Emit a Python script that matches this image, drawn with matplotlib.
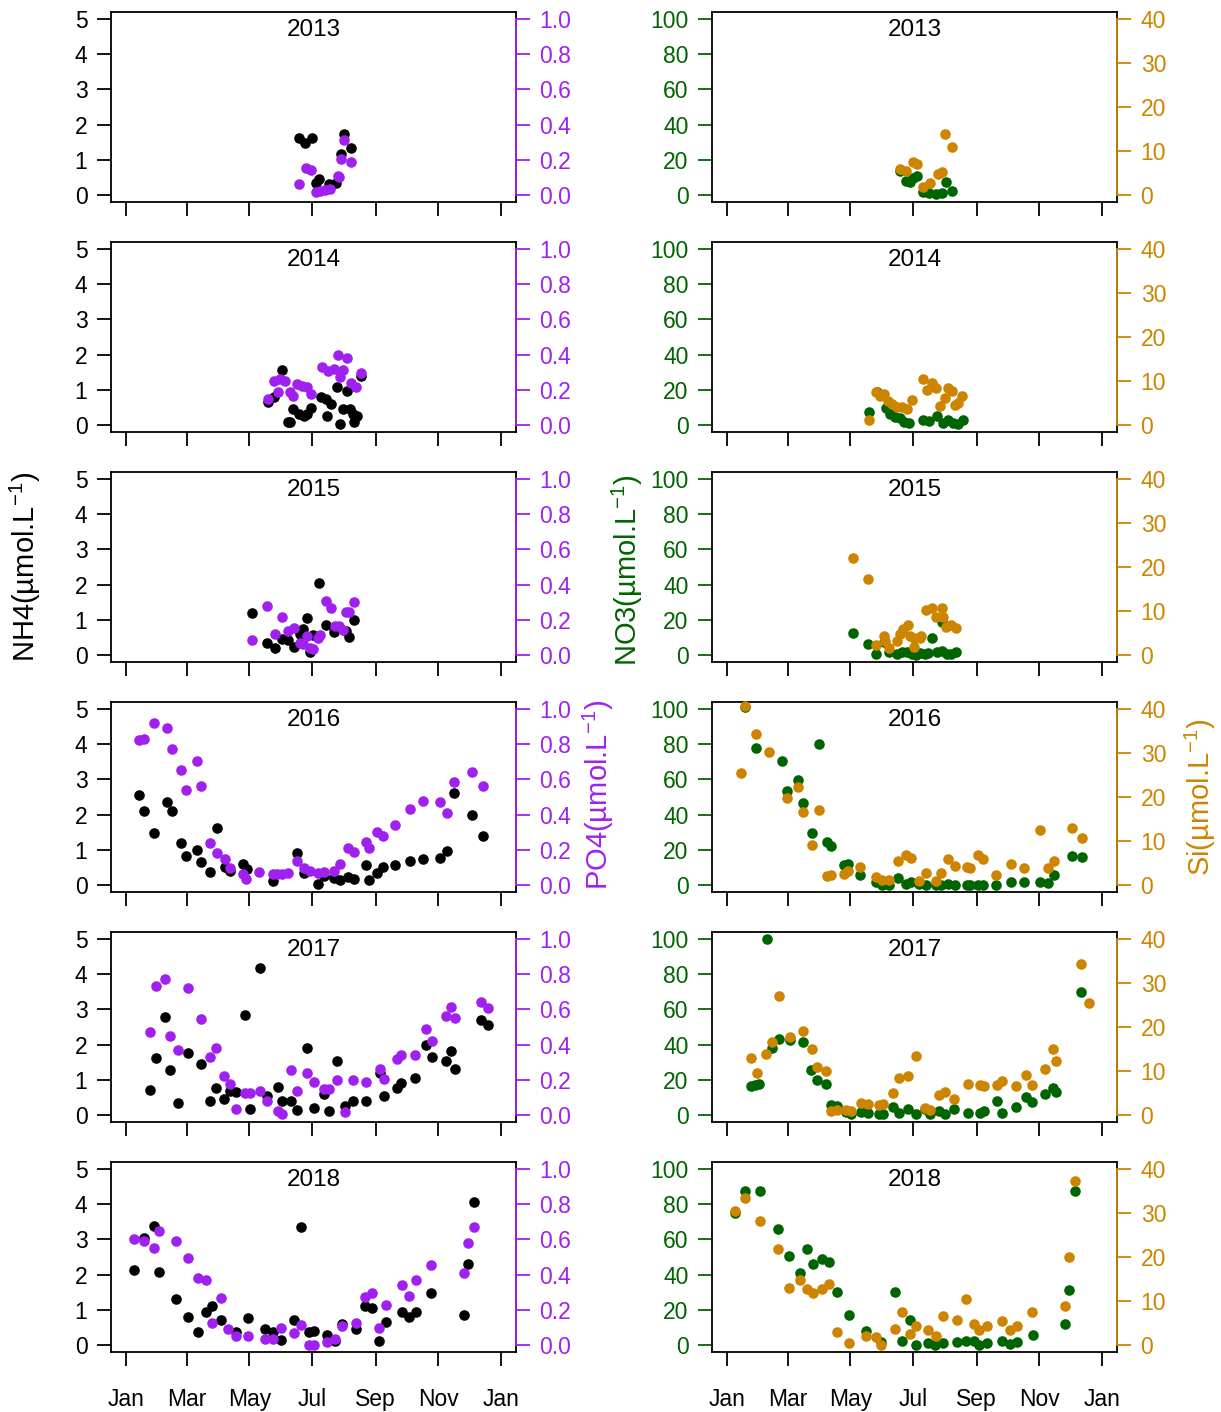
import matplotlib
matplotlib.use("Agg")
import matplotlib.pyplot as plt

plt.rcParams['font.family'] = ['Liberation Sans', 'DejaVu Sans']
plt.rcParams['mathtext.default'] = 'regular'

# day of year (Jan 1 = 0), value
years = [2013, 2014, 2015, 2016, 2017, 2018]
month_labels = ['Jan', 'Mar', 'May', 'Jul', 'Sep', 'Nov', 'Jan']
month_days = [0, 59, 120, 181, 243, 304, 365]

nh4_2013 = [(168, 1.61), (174, 1.47), (181, 1.61), (185, 0.35), (188, 0.45), (198, 0.32),
            (204, 0.35), (209, 1.16), (212, 1.73), (219, 1.33)]
po4_2013 = [(168, 0.065), (175, 0.156), (180, 0.141), (185, 0.019), (189, 0.023), (194, 0.027),
            (199, 0.032), (206, 0.11), (207, 0.10), (209, 0.204), (212, 0.31), (219, 0.19)]
no3_2013 = [(168, 13.4), (174, 8.0), (178, 7.6), (181, 9.5), (185, 10.5), (191, 1.9), (197, 0.9),
            (203, 0.3), (209, 0.9), (213, 7.6), (219, 2.3)]
si_2013 = [(168, 6.0), (174, 5.5), (181, 7.5), (185, 7.1), (191, 1.9), (198, 2.8), (205, 4.7),
           (209, 5.3), (212, 13.8), (219, 10.9)]

nh4_2014 = [(138, 0.64), (144, 0.80), (152, 1.57), (158, 0.09), (160, 0.09), (163, 0.45), (168, 0.32),
            (173, 0.26), (176, 0.31), (180, 0.49), (190, 0.80), (195, 0.73), (196, 0.26), (200, 0.59),
            (205, 1.09), (208, 0.04), (211, 0.45), (215, 0.97), (218, 0.45), (221, 0.32), (222, 0.09),
            (225, 0.26), (229, 1.40)]
po4_2014 = [(138, 0.147), (144, 0.251), (148, 0.19), (150, 0.261), (155, 0.248), (160, 0.19),
            (163, 0.166), (166, 0.233), (171, 0.223), (176, 0.213), (180, 0.175), (191, 0.327),
            (197, 0.309), (202, 0.318), (206, 0.398), (208, 0.27), (211, 0.31), (215, 0.381),
            (219, 0.241), (224, 0.213), (229, 0.293)]
no3_2014 = [(138, 7.6), (146, 19), (155, 9.8), (159, 6.4), (164, 4.6), (168, 4.2), (172, 1.9),
            (177, 1.3), (191, 3), (197, 2), (204, 5), (210, 1.3), (215, 2.7), (220, 1.3), (225, 0.7),
            (230, 2.7)]
si_2014 = [(138, 1.1), (145, 7.4), (149, 6.6), (153, 7.0), (157, 5.5), (161, 4.7), (165, 4.0),
           (170, 4.1), (175, 3.6), (180, 5.6), (191, 10.4), (195, 7.9), (200, 9.6), (203, 8.5),
           (207, 4.3), (212, 6.2), (215, 8.5), (219, 7.7), (222, 4.6), (225, 4.9), (229, 6.6)]

nh4_2015 = [(123, 1.18), (137, 0.33), (145, 0.19), (152, 0.45), (158, 0.42), (164, 0.23), (169, 0.59),
            (172, 0.73), (176, 1.04), (179, 0.09), (182, 0.57), (188, 2.05), (195, 0.86), (202, 0.64),
            (214, 0.69), (217, 0.50), (222, 0.99)]
po4_2015 = [(123, 0.086), (137, 0.28), (145, 0.122), (152, 0.213), (158, 0.137), (164, 0.152),
            (169, 0.07), (172, 0.061), (176, 0.109), (179, 0.042), (182, 0.033), (187, 0.099),
            (189, 0.114), (195, 0.305), (200, 0.267), (203, 0.162), (207, 0.162), (211, 0.141),
            (214, 0.242), (217, 0.247), (222, 0.303)]
no3_2015 = [(123, 12.4), (137, 6.1), (145, 0.3), (153, 7.6), (158, 1.5), (165, 0.3), (170, 1.5),
            (175, 1.9), (180, 0.3), (184, 0), (188, 0.9), (193, 0.3), (196, 0.9), (200, 9.9),
            (204, 1.5), (209, 2.3), (209, 18.7), (214, 0.3), (218, 0.3), (223, 1.5)]
si_2015 = [(123, 22.0), (137, 17.2), (145, 2.3), (153, 4.4), (154, 3.1), (158, 1.5), (165, 3.1),
           (168, 4.7), (171, 6.0), (176, 6.7), (178, 4.2), (182, 3.8), (182, 1.7), (188, 3.8),
           (189, 4.2), (194, 10.3), (200, 10.7), (203, 8.6), (209, 10.7), (210, 8.6), (213, 6.3),
           (218, 6.9), (223, 6.1)]

nh4_2016 = [(13, 2.57), (18, 2.11), (27, 1.47), (40, 2.35), (45, 2.10), (54, 1.19), (58, 0.83),
            (69, 0.99), (73, 0.64), (82, 0.37), (89, 1.62), (96, 0.51), (101, 0.40), (114, 0.61),
            (118, 0.45), (143, 0.11), (166, 0.90), (173, 0.35), (187, 0.02), (193, 0.26), (202, 0.19),
            (208, 0.13), (216, 0.23), (222, 0.16), (234, 0.57), (237, 0.14), (244, 0.35), (250, 0.50),
            (262, 0.57), (276, 0.69), (289, 0.75), (306, 0.78), (312, 0.97), (319, 2.62), (337, 2.0),
            (347, 1.38)]
po4_2016 = [(13, 0.823), (18, 0.832), (27, 0.918), (40, 0.895), (45, 0.771), (54, 0.651), (58, 0.541),
            (69, 0.703), (73, 0.562), (82, 0.238), (89, 0.179), (96, 0.147), (101, 0.099), (114, 0.061),
            (117, 0.032), (129, 0.076), (143, 0.065), (147, 0.061), (152, 0.065), (158, 0.070),
            (166, 0.137), (173, 0.099), (179, 0.08), (187, 0.07), (193, 0.076), (202, 0.08),
            (208, 0.118), (216, 0.21), (222, 0.19), (234, 0.242), (237, 0.21), (244, 0.299),
            (250, 0.276), (262, 0.341), (276, 0.429), (289, 0.48), (306, 0.47), (312, 0.408),
            (319, 0.585), (337, 0.644), (347, 0.56)]
no3_2016 = [(18, 101), (28, 78), (54, 70.7), (58, 53.2), (69, 59.7), (74, 46.8), (83, 29.6), (90, 79.9),
            (97, 24.5), (101, 22), (114, 11.1), (118, 11.9), (129, 5.7), (145, 1.5), (151, 0), (158, 0),
            (166, 3.8), (174, 0.4), (179, 1.5), (187, 0.4), (194, 0), (203, 0), (208, 0), (215, 0.4),
            (222, 0), (234, 0), (237, 0), (244, 0), (249, 0), (262, 0), (276, 1.5), (289, 1.9),
            (305, 1.9), (312, 1.0), (318, 5.4), (336, 16.3), (346, 15.7)]
si_2016 = [(14, 25.5), (18, 40.8), (28, 34.4), (41, 30.3), (58, 19.7), (69, 22.2), (74, 16.7), (83, 9.0),
           (90, 17.0), (97, 2.1), (101, 2.3), (114, 2.4), (118, 3.1), (129, 4.0), (145, 1.7), (151, 1.1),
           (158, 1.1), (166, 5.4), (174, 6.9), (179, 6.1), (187, 0.8), (194, 2.8), (203, 0.9),
           (208, 2.7), (215, 6.0), (222, 4.4), (234, 4.0), (237, 3.8), (244, 6.7), (249, 6.0),
           (262, 2.3), (276, 4.7), (289, 3.8), (305, 12.6), (312, 3.8), (318, 5.4), (336, 13.0),
           (346, 10.7)]

nh4_2017 = [(23, 0.71), (29, 1.62), (38, 2.78), (43, 1.29), (51, 0.33), (60, 1.76), (73, 1.46),
            (82, 0.39), (88, 0.76), (95, 0.44), (101, 0.68), (107, 0.65), (116, 2.84), (121, 0.17),
            (130, 4.17), (137, 0.55), (148, 0.79), (152, 0.41), (161, 0.41), (166, 0.15), (176, 1.91),
            (183, 0.2), (193, 0.6), (198, 0.1), (205, 1.53), (213, 0.25), (221, 0.41), (234, 0.41),
            (247, 1.2), (251, 0.53), (264, 0.76), (268, 0.91), (281, 1.06), (292, 1.98), (298, 1.65),
            (311, 1.52), (316, 1.81), (320, 1.31), (346, 2.70), (352, 2.57)]
po4_2017 = [(23, 0.469), (29, 0.731), (38, 0.771), (43, 0.45), (51, 0.368), (60, 0.724), (73, 0.543),
            (82, 0.33), (88, 0.381), (95, 0.221), (101, 0.177), (107, 0.034), (116, 0.126), (121, 0.126),
            (130, 0.135), (137, 0.078), (148, 0.025), (152, 0.006), (161, 0.257), (166, 0.135),
            (176, 0.24), (183, 0.187), (193, 0.145), (198, 0.145), (205, 0.196), (213, 0.015),
            (221, 0.196), (234, 0.187), (247, 0.259), (251, 0.206), (264, 0.316), (268, 0.339),
            (281, 0.339), (292, 0.491), (298, 0.419), (311, 0.562), (316, 0.611), (320, 0.549),
            (346, 0.644), (352, 0.61)]
no3_2017 = [(23, 16.2), (27, 17.1), (31, 17.7), (39, 100), (44, 38.1), (51, 43.2), (61, 42.5),
            (74, 41.3), (82, 25.7), (88, 20), (96, 17.5), (101, 5.7), (107, 5.1), (116, 1.9), (121, 0.6),
            (130, 1.9), (137, 1.3), (148, 0.6), (152, 0.6), (162, 4.8), (167, 1), (176, 3.2), (184, 0.6),
            (193, 3.2), (198, 0.6), (206, 2.5), (212, 0.6), (221, 3.2), (235, 1.3), (246, 1), (250, 2.5),
            (263, 8.2), (268, 1.3), (281, 4.8), (291, 10.1), (297, 7.6), (310, 12), (317, 15.6),
            (320, 13.3), (345, 69.9)]
si_2017 = [(23, 12.95), (29, 9.5), (38, 13.9), (44, 16.5), (51, 27.0), (61, 17.8), (74, 19.0), (83, 15.1),
           (88, 10.8), (96, 10.1), (101, 0.8), (107, 1.1), (116, 1.1), (121, 1.0), (130, 2.8), (137, 2.5),
           (148, 2.3), (152, 2.4), (162, 5.1), (167, 8.4), (176, 8.8), (184, 13.3), (193, 1.5),
           (198, 1.1), (206, 4.6), (212, 5.3), (221, 3.7), (235, 7.1), (246, 6.9), (250, 6.5),
           (263, 6.9), (268, 7.8), (281, 6.5), (291, 9.0), (297, 6.7), (310, 10.5), (317, 15),
           (320, 12.2), (345, 34.3), (352, 25.5)]

nh4_2018 = [(8, 2.12), (18, 3.05), (27, 3.39), (32, 2.06), (49, 1.30), (60, 0.79), (70, 0.36), (78, 0.95),
            (84, 1.12), (92, 0.70), (107, 0.36), (119, 0.77), (135, 0.46), (143, 0.38), (151, 0.15),
            (164, 0.72), (170, 3.36), (178, 0.38), (183, 0.41), (196, 0.27), (203, 0.1), (210, 0.6),
            (224, 0.44), (233, 1.10), (239, 1.05), (246, 0.12), (253, 0.65), (269, 0.95), (275, 0.79),
            (282, 0.93), (297, 1.49), (329, 0.84), (333, 2.31), (339, 4.06)]
po4_2018 = [(8, 0.602), (18, 0.59), (27, 0.549), (32, 0.65), (49, 0.59), (60, 0.497), (70, 0.381),
            (78, 0.368), (84, 0.126), (92, 0.269), (99, 0.091), (107, 0.053), (119, 0.053), (135, 0.034),
            (143, 0.034), (151, 0.095), (164, 0.069), (170, 0.116), (178, 0.0), (183, 0.0), (196, 0.015),
            (203, 0.034), (210, 0.107), (224, 0.126), (233, 0.272), (239, 0.297), (246, 0.095),
            (253, 0.229), (269, 0.339), (275, 0.278), (282, 0.368), (297, 0.457), (329, 0.41),
            (333, 0.577), (339, 0.672)]
no3_2018 = [(8, 75.1), (18, 87.6), (32, 87.6), (50, 66), (60, 50.7), (71, 40.7), (78, 54.5), (84, 46.1),
            (92, 48.8), (99, 47.4), (107, 30.2), (119, 17.2), (135, 8.2), (150, 1.5), (164, 30.2),
            (170, 2.5), (178, 14.3), (184, 0.2), (196, 1), (202, 0), (210, 1), (224, 1.5), (233, 2.5),
            (240, 2.5), (245, 0.2), (253, 1), (268, 2.5), (275, 0.6), (282, 1.5), (298, 5.9),
            (329, 12), (333, 31.2), (339, 87.6)]
si_2018 = [(8, 30.4), (18, 33.5), (32, 28.1), (50, 21.9), (60, 13.0), (71, 14.8), (78, 12.8), (84, 11.9),
           (92, 12.8), (99, 13.8), (107, 2.9), (119, 0.4), (135, 2.1), (145, 1.9), (150, 0.1), (164, 3.7),
           (170, 7.5), (178, 2.5), (184, 4.4), (196, 3.3), (203, 2.1), (210, 6.6), (224, 5.6),
           (233, 10.4), (240, 4.8), (245, 3.3), (253, 4.4), (268, 5.4), (275, 3.4), (282, 4.4),
           (297, 7.5), (329, 8.9), (333, 19.9), (339, 37.2)]

nh4 = [nh4_2013, nh4_2014, nh4_2015, nh4_2016, nh4_2017, nh4_2018]
po4 = [po4_2013, po4_2014, po4_2015, po4_2016, po4_2017, po4_2018]
no3 = [no3_2013, no3_2014, no3_2015, no3_2016, no3_2017, no3_2018]
si = [si_2013, si_2014, si_2015, si_2016, si_2017, si_2018]

C_NH4 = 'black'
C_PO4 = '#A020F0'
C_NO3 = '#006400'
C_SI = '#CD8500'

FW, FH = 1221, 1412
fig = plt.figure(figsize=(FW / 100, FH / 100), dpi=100)

def panel(left_px, top_px, s1, c1, lim1, ticks1, fmt1, s2, c2, lim2, ticks2, fmt2, year, last):
    ax = fig.add_axes([left_px / FW, 1 - (top_px + 190) / FH, 405 / FW, 190 / FH])
    x, y = zip(*s1)
    ax.scatter(x, y, s=58, color=c1, linewidths=0, clip_on=False, zorder=3)
    ax.set_xlim(-14.6, 379.6)
    ax.set_ylim(lim1)
    ax.set_yticks(ticks1)
    ax.set_yticklabels([fmt1 % t for t in ticks1])
    ax.tick_params(axis='y', length=10, width=1.3, colors=c1, labelcolor=c1, labelsize=16.5, pad=7)
    ax.set_xticks(month_days)
    ax.set_xticklabels(month_labels if last else [])
    ax.tick_params(axis='x', length=10, width=1.3, labelsize=16.5, pad=16)
    for sp in ax.spines.values():
        sp.set_linewidth(1.3)
    ax.text(0.5, 0.965, str(year), transform=ax.transAxes, ha='center', va='top', fontsize=17.5)

    ax2 = ax.twinx()
    x, y = zip(*s2)
    ax2.scatter(x, y, s=58, color=c2, linewidths=0, clip_on=False, zorder=3)
    ax2.set_ylim(lim2)
    ax2.set_yticks(ticks2)
    ax2.set_yticklabels([fmt2 % t for t in ticks2])
    ax2.tick_params(axis='y', length=10, width=1.3, colors=c2, labelcolor=c2, labelsize=16.5, pad=7)
    for name in ['top', 'bottom', 'left']:
        ax2.spines[name].set_visible(False)
    ax2.spines['right'].set_color(c2)
    ax2.spines['right'].set_linewidth(1.3)
    ax2.spines['right'].set_bounds(ticks2[0], ticks2[-1])
    return ax

for i, yr in enumerate(years):
    top = 12 + 230 * i
    last = i == len(years) - 1
    panel(111, top, nh4[i], C_NH4, (-0.2, 5.2), [0, 1, 2, 3, 4, 5], '%d',
          po4[i], C_PO4, (-0.04, 1.04), [0, 0.2, 0.4, 0.6, 0.8, 1.0], '%.1f', yr, last)
    panel(712, top, no3[i], C_NO3, (-4, 104), [0, 20, 40, 60, 80, 100], '%d',
          si[i], C_SI, (-1.6, 41.6), [0, 10, 20, 30, 40], '%d', yr, last)

unit = '(µmol.L$^{-1}$)'
fig.text(25 / FW, 1 - 567 / FH, 'NH4' + unit, rotation=90, ha='center', va='center',
         fontsize=21, color=C_NH4)
fig.text(627 / FW, 1 - 570 / FH, 'NO3' + unit, rotation=90, ha='center', va='center',
         fontsize=21, color=C_NO3)
fig.text(598 / FW, 1 - 795 / FH, 'PO4' + unit, rotation=90, ha='center', va='center',
         fontsize=21, color=C_PO4)
fig.text(1200 / FW, 1 - 797 / FH, 'Si' + unit, rotation=90, ha='center', va='center',
         fontsize=21, color=C_SI)

fig.savefig('out.png', dpi=100)
